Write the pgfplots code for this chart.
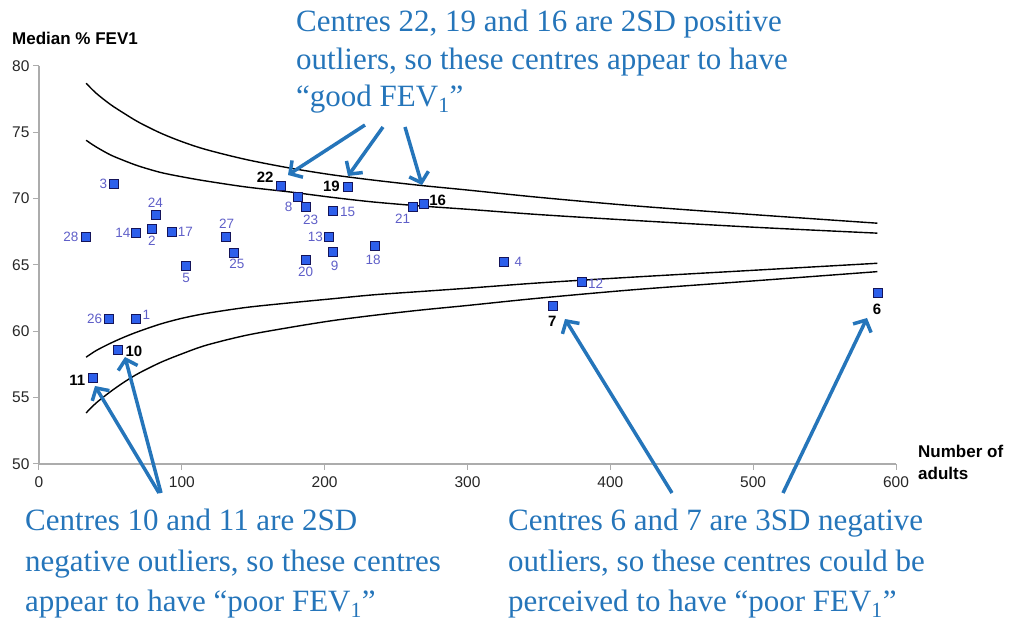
\documentclass[border=0pt]{standalone}
\usepackage{pgfplots}
\pgfplotsset{compat=1.18}
\usepackage{pgfplotstable}
\usepackage{fontspec}
\setmainfont{Liberation Sans}
\newfontfamily\annfont{Liberation Serif}
\usetikzlibrary{arrows.meta}
\definecolor{annblue}{RGB}{37,117,186}
\definecolor{ptfill}{RGB}{45,95,235}
\definecolor{ptdraw}{RGB}{20,20,90}
\definecolor{lblblue}{RGB}{95,95,200}

\pgfplotstableread{
x y lab dx dy
68.1 60.9 1 10 5
79.1 67.7 2 0 -12
52.7 71.1 3 -11 0
325.8 65.25 4 14 0
103.0 64.9 5 0 -12
181.0 70.1 8 -9 -10
205.6 65.98 9 2 -14
379.9 63.7 12 14 -2
203.3 67.1 13 -14 0
67.9 67.4 14 -13 0
205.6 69.1 15 15 -1
93.4 67.5 17 13 0
235.3 66.4 18 -2 -13
186.7 65.35 20 0 -12
261.6 69.35 21 -10 -12
186.7 69.35 23 5 -13
82.2 68.8 24 -1 12
136.5 65.9 25 3 -11
48.8 60.96 26 -14 0
130.7 67.1 27 1 13
32.9 67.1 28 -15 0
}\regular

\pgfplotstableread{
x y lab dx dy
587.5 62.9 6 -1 -16
360.1 61.95 7 -1 -16
55.3 58.6 10 16 -1
38.0 56.5 11 -16 -3
269.3 69.6 16 14 4
216.6 70.86 19 -17 1
169.5 70.96 22 -16 9
}\outliers

\pgfplotstableread{
x y
33 78.7
40 77.95
50 77.1
60 76.4
70 75.75
85 74.95
100 74.3
117 73.7
145 72.95
176 72.3
205 71.8
234 71.4
267 71.0
300 70.65
350 70.1
418 69.45
500 68.8
587 68.15
}\outerup

\pgfplotstableread{
x y
33 53.85
40 54.6
50 55.45
60 56.2
70 56.85
85 57.65
100 58.3
117 58.95
145 59.7
176 60.3
205 60.8
234 61.2
267 61.6
300 61.95
350 62.5
418 63.15
500 63.8
587 64.5
}\outerlow

\pgfplotstableread{
x y
33 74.4
40 73.9
50 73.3
60 72.85
70 72.45
85 71.98
100 71.65
117 71.33
145 70.88
176 70.5
205 70.1
234 69.75
267 69.45
300 69.2
350 68.8
418 68.35
500 67.85
587 67.4
}\innerup

\pgfplotstableread{
x y
33 58.05
40 58.55
50 59.1
60 59.58
70 60.0
85 60.55
100 60.98
117 61.35
145 61.8
176 62.15
205 62.45
234 62.75
267 63.0
300 63.25
350 63.65
418 64.1
500 64.6
587 65.13
}\innerlow

\begin{document}
\begin{tikzpicture}[x=1pt,y=1pt]
\path[use as bounding box] (0,0) rectangle (1023,621);
\begin{axis}[
  at={(39pt,157pt)}, anchor=south west,
  scale only axis, width=857pt, height=398pt,
  xmin=0, xmax=600, ymin=50, ymax=80,
  xtick={0,100,...,600}, ytick={50,55,...,80},
  axis x line*=bottom, axis y line*=left,
  axis line style={gray!65, line width=1.3pt},
  tick align=outside, major tick length=6pt,
  tick style={gray!65, line width=1pt},
  ticklabel style={font=\fontsize{15.5}{17}\selectfont, text=black!85},
  xticklabel style={yshift=-3pt},
  /pgf/number format/assume math mode=true,
  clip=false,
]
\addplot[black, line width=1.4pt, smooth] table {\outerup};
\addplot[black, line width=1.4pt, smooth] table {\outerlow};
\addplot[black, line width=1.4pt, smooth] table {\innerup};
\addplot[black, line width=1.4pt, smooth] table {\innerlow};

\addplot[only marks, mark=square*, mark size=4.5pt,
  mark options={fill=ptfill, draw=ptdraw, line width=0.9pt},
  point meta=explicit symbolic,
  visualization depends on={\thisrow{dx}\as\lbldx},
  visualization depends on={\thisrow{dy}\as\lbldy},
  nodes near coords,
  every node near coord/.append style={anchor=center, inner sep=0pt,
    xshift=\lbldx pt, yshift=\lbldy pt,
    font=\fontsize{13.5}{15}\selectfont, text=lblblue}]
  table[meta=lab] {\regular};

\addplot[only marks, mark=square*, mark size=4.5pt,
  mark options={fill=ptfill, draw=ptdraw, line width=0.9pt},
  point meta=explicit symbolic,
  visualization depends on={\thisrow{dx}\as\lbldx},
  visualization depends on={\thisrow{dy}\as\lbldy},
  nodes near coords,
  every node near coord/.append style={anchor=center, inner sep=0pt,
    xshift=\lbldx pt, yshift=\lbldy pt,
    font=\fontsize{15}{17}\selectfont\bfseries, text=black}]
  table[meta=lab] {\outliers};
\end{axis}

% axis titles
\node[anchor=west, inner sep=0pt, font=\fontsize{17}{19}\selectfont\bfseries] at (12,583) {Median \% FEV1};
\node[anchor=base west, inner sep=0pt, font=\fontsize{17}{19}\selectfont\bfseries] at (918,163) {Number of};
\node[anchor=base west, inner sep=0pt, font=\fontsize{17}{19}\selectfont\bfseries] at (918,141) {adults};

% arrows
\begin{scope}[annblue, line width=3.5pt, -{Straight Barb[length=9pt,width=20pt]}]
\draw (365,496) -- (288,446);
\draw (383,494) -- (348,445);
\draw (405,494) -- (422,436);
\draw (159,128) -- (95,235);
\draw (161,128) -- (125,264);
\draw (672,128) -- (565,302);
\draw (783,128) -- (867,303);
\end{scope}

% annotations
\begin{scope}[every node/.style={anchor=base west, inner sep=0pt, text=annblue,
    font=\annfont\fontsize{31}{36}\selectfont}]
\node at (296,589) {Centres 22, 19 and 16 are 2SD positive};
\node at (296,551) {outliers, so these centres appear to have};
\node at (296,514) {“good FEV\textsubscript{1}”};
\node at (25,90) {Centres 10 and 11 are 2SD};
\node at (25,49) {negative outliers, so these centres};
\node at (25,9) {appear to have “poor FEV\textsubscript{1}”};
\node at (508,90) {Centres 6 and 7 are 3SD negative};
\node at (508,49) {outliers, so these centres could be};
\node at (508,9) {perceived to have “poor FEV\textsubscript{1}”};
\end{scope}
\end{tikzpicture}
\end{document}
